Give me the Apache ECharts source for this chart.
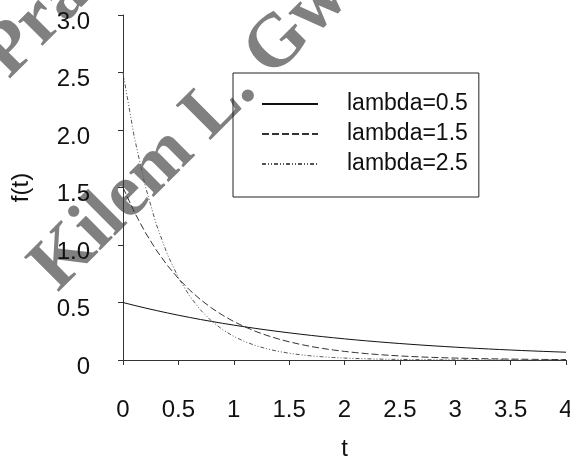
<!DOCTYPE html>
<html>
<head>
<meta charset="utf-8">
<script src="https://cdn.jsdelivr.net/npm/echarts@6/dist/echarts.min.js"></script>
<style>html,body{margin:0;padding:0;background:#fff}#c{width:570px;height:458px}</style>
</head>
<body>
<div id="c"></div>
<script>
var tValues = [0,0.1,0.2,0.3,0.4,0.5,0.6,0.7,0.8,0.9,1,1.1,1.2,1.3,1.4,1.5,1.6,1.7,1.8,1.9,2,2.1,2.2,2.3,2.4,2.5,2.6,2.7,2.8,2.9,3,3.1,3.2,3.3,3.4,3.5,3.6,3.7,3.8,3.9,4];
var lambda05 = [0.5,0.4756,0.4524,0.4304,0.4094,0.3894,0.3704,0.3523,0.3352,0.3188,0.3033,0.2885,0.2744,0.2610,0.2483,0.2362,0.2247,0.2137,0.2033,0.1934,0.1839,0.1750,0.1664,0.1583,0.1506,0.1433,0.1363,0.1296,0.1233,0.1173,0.1116,0.1061,0.1009,0.0960,0.0913,0.0869,0.0826,0.0786,0.0748,0.0711,0.0677];
var lambda15 = [1.5,1.2911,1.1112,0.9564,0.8232,0.7086,0.6099,0.5249,0.4518,0.3889,0.3347,0.2881,0.2479,0.2134,0.1837,0.1581,0.1361,0.1171,0.1008,0.0868,0.0747,0.0643,0.0553,0.0476,0.0410,0.0353,0.0304,0.0261,0.0225,0.0194,0.0167,0.0143,0.0123,0.0106,0.0091,0.0079,0.0068,0.0058,0.0050,0.0043,0.0037];
var lambda25 = [2.5,1.9470,1.5163,1.1809,0.9197,0.7163,0.5578,0.4344,0.3383,0.2635,0.2052,0.1598,0.1245,0.0969,0.0755,0.0588,0.0458,0.0357,0.0278,0.0216,0.0168,0.0131,0.0102,0.0080,0.0062,0.0048,0.0038,0.0029,0.0023,0.0018,0.0014,0.0011,0.0008,0.0007,0.0005,0.0004,0.0003,0.0002,0.0002,0.0001,0.0001];
var seriesNames = ['lambda=0.5','lambda=1.5','lambda=2.5'];
var yTickLabels = {'0':'0','0.5':'0.5','1':'1.0','1.5':'1.5','2':'2.0','2.5':'2.5','3':'3.0'};
var xAxisTitle = 't';
var yAxisTitle = 'f(t)';
var watermark1 = 'Kilem L. Gwet';
var watermark2 = 'Pra';

function pairs(ys){ return tValues.map(function(t,i){ return [t, ys[i]]; }); }

var chart = echarts.init(document.getElementById('c'), null, {renderer:'canvas'});
var font = 'Liberation Sans, Arial, sans-serif';
var axisCommon = {
  axisLine:{show:true, lineStyle:{color:'#333', width:1}},
  axisTick:{show:true, length:5, lineStyle:{color:'#333', width:1}},
  splitLine:{show:false}
};
chart.setOption({
  animation:false,
  backgroundColor:'#fff',
  grid:{left:123, right:4, top:15, bottom:98, containLabel:false, outerBoundsMode:'none'},
  xAxis: Object.assign({
    type:'value', min:0, max:4, interval:0.5,
    name:xAxisTitle, nameLocation:'middle', nameGap:77,
    nameTextStyle:{fontFamily:font, fontSize:24, color:'#111'},
    axisLabel:{fontFamily:font, fontSize:24, color:'#111', margin:38, showMaxLabel:true, showMinLabel:true}
  }, axisCommon),
  yAxis: Object.assign({
    type:'value', min:0, max:3, interval:0.5,
    name:yAxisTitle, nameLocation:'middle', nameGap:90,
    nameTextStyle:{fontFamily:font, fontSize:24, color:'#111'},
    axisLabel:{fontFamily:font, fontSize:24, color:'#111', margin:33, verticalAlign:'top', lineHeight:14,
      formatter:function(v){ return yTickLabels[String(v)] !== undefined ? yTickLabels[String(v)] : String(v); }}
  }, axisCommon),
  legend:{
    left:233, top:73, orient:'vertical',
    borderColor:'#222', borderWidth:1,
    padding:[19, 11, 21, 28],
    itemWidth:56, itemHeight:14, itemGap:6,
    itemStyle:{opacity:0},
    textStyle:{fontFamily:font, fontSize:23, color:'#111', lineHeight:24, padding:[0,0,0,24]},
    data:seriesNames
  },
  series:[
    {name:seriesNames[0], type:'line', data:pairs(lambda05), showSymbol:false, symbol:'none', smooth:false,
     lineStyle:{color:'#111', width:1, type:'solid'}, itemStyle:{color:'#111'}},
    {name:seriesNames[1], type:'line', data:pairs(lambda15), showSymbol:false, symbol:'none', smooth:false,
     lineStyle:{color:'#333', width:1, type:[7,3]}, itemStyle:{color:'#333'}},
    {name:seriesNames[2], type:'line', data:pairs(lambda25), showSymbol:false, symbol:'none', smooth:false,
     lineStyle:{color:'#555', width:1, type:[4,2,1,2,1,2]}, itemStyle:{color:'#555'}}
  ],
  graphic:[
    {type:'text', x:44, y:279, rotation:Math.PI/4, z:-10, zlevel:0,
     style:{text:watermark1, fill:'#808080', font:'bold 75px "Liberation Serif", serif', textAlign:'left', textVerticalAlign:'middle', verticalAlign:'middle'}},
    {type:'text', x:-5, y:66, rotation:Math.PI/4, z:-10, zlevel:0,
     style:{text:watermark2, fill:'#808080', font:'bold 75px "Liberation Serif", serif', textAlign:'left', textVerticalAlign:'middle', verticalAlign:'middle'}}
  ]
});
</script>
</body>
</html>
